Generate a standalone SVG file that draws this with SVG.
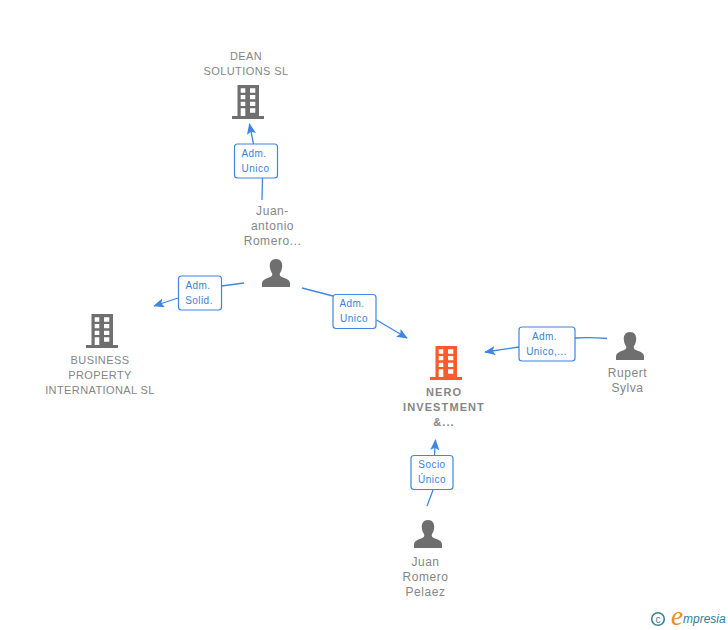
<svg xmlns="http://www.w3.org/2000/svg" width="728" height="630" viewBox="0 0 728 630">
<style>
.n{font:11px "Liberation Sans",Arial,sans-serif;fill:#868686;text-anchor:middle;letter-spacing:.4px}
.p{font-size:12px;letter-spacing:.55px}
.b{font-weight:bold;letter-spacing:1.1px}
.l{font:10px "Liberation Sans",Arial,sans-serif;fill:#3a7fdc;text-anchor:middle;letter-spacing:.45px}
.box{fill:#fff;stroke:#3f86e0;stroke-width:1.2}
.c{fill:none;stroke:#3f86e0;stroke-width:1.3}
</style>
<defs>
<marker id="a" viewBox="0 0 12 10" refX="11" refY="5" markerWidth="11" markerHeight="9.500" markerUnits="userSpaceOnUse" orient="auto"><path d="M0 0L12 5L0 10L2.500 5Z" fill="#3f86e0"/></marker>
<symbol id="bld" viewBox="0 0 32 34" width="32" height="34" overflow="visible">
<path fill-rule="evenodd" d="M5.500 0H27V31H32V34H0V31H5.500ZM8.700 3.300V7.700H13.300V3.300ZM18 3.300V7.700H23.300V3.300ZM8.700 10V14.300H13.300V10ZM18 10V14.300H23.300V10ZM8.700 16.700V21H13.300V16.700ZM18 16.700V21H23.300V16.700ZM8.700 23.300V31H13.300V23.300ZM18 23.300V27.700H23.300V23.300Z"/>
</symbol>
<symbol id="per" viewBox="0 0 28 28" width="28" height="28" overflow="visible">
<path d="M14 0C18.500 0 20.500 3.500 20.200 7.500C20 10.500 19 12.500 17.800 14.500C17.300 16.500 18.500 17.500 21 18.500C25 20 27.500 21 28 24V28H0V24C.5 21 3 20 7 18.500C9.500 17.500 10.700 16.500 10.200 14.500C9 12.500 8 10.500 7.800 7.500C7.500 3.500 9.500 0 14 0Z" fill="#6f6f6f"/>
</symbol>
</defs>
<g id="connectors">
<path class="c" d="M262.500 178L262 200"/>
<path class="c" marker-end="url(#a)" d="M253.500 144L249.500 124"/>
<path class="c" d="M221.500 286L244 283"/>
<path class="c" marker-end="url(#a)" d="M178 298L154 306"/>
<path class="c" d="M302 288L333 296"/>
<path class="c" marker-end="url(#a)" d="M376.500 320L407 338"/>
<path class="c" d="M575 338Q590 337 607 338.500"/>
<path class="c" marker-end="url(#a)" d="M519 347L485 352"/>
<path class="c" d="M433 490L427 506"/>
<path class="c" marker-end="url(#a)" d="M434.500 455L435.500 440"/>
</g>
<g id="dean"><use href="#bld" x="232" y="85" fill="#6f6f6f"/><text class="n"><tspan x="246" y="60">DEAN</tspan><tspan x="246" y="75">SOLUTIONS SL</tspan></text></g>
<g id="business"><use href="#bld" x="86" y="314" fill="#6f6f6f"/><text class="n"><tspan x="100" y="364">BUSINESS</tspan><tspan x="100" y="379">PROPERTY</tspan><tspan x="100" y="394">INTERNATIONAL SL</tspan></text></g>
<g id="nero"><use href="#bld" x="430" y="346" fill="#ff5a2b"/><text class="n b"><tspan x="444" y="395.500">NERO</tspan><tspan x="444" y="410.500">INVESTMENT</tspan><tspan x="444" y="425.500">&amp;...</tspan></text></g>
<g id="juan-antonio"><use href="#per" x="262" y="259"/><text class="n p"><tspan x="272.500" y="215">Juan-</tspan><tspan x="272.500" y="230">antonio</tspan><tspan x="272.500" y="245">Romero...</tspan></text></g>
<g id="rupert"><use href="#per" x="616" y="332"/><text class="n p"><tspan x="627.500" y="377">Rupert</tspan><tspan x="627.500" y="392">Sylva</tspan></text></g>
<g id="juan"><use href="#per" x="414" y="520"/><text class="n p"><tspan x="425.500" y="566">Juan</tspan><tspan x="425.500" y="581">Romero</tspan><tspan x="425.500" y="596">Pelaez</tspan></text></g>
<g id="label-1"><rect class="box" x="234.500" y="144" width="43" height="34" rx="3"/><text class="l"><tspan x="254" y="157">Adm.</tspan><tspan x="255.500" y="172">Unico</tspan></text></g>
<g id="label-2"><rect class="box" x="178.500" y="276" width="43" height="34" rx="3"/><text class="l"><tspan x="198" y="289">Adm.</tspan><tspan x="199" y="304">Solid.</tspan></text></g>
<g id="label-3"><rect class="box" x="333" y="294.500" width="43" height="34" rx="3"/><text class="l"><tspan x="352" y="307">Adm.</tspan><tspan x="354" y="322">Unico</tspan></text></g>
<g id="label-4"><rect class="box" x="519" y="327" width="56" height="34" rx="3"/><text class="l"><tspan x="544.500" y="340">Adm.</tspan><tspan x="546.500" y="355">Unico,...</tspan></text></g>
<g id="label-5"><rect class="box" x="411" y="455.500" width="42" height="34" rx="3"/><text class="l"><tspan x="432" y="468">Socio</tspan><tspan x="432" y="483">Único</tspan></text></g>
<g id="logo">
<circle cx="658" cy="619" r="6.300" fill="none" stroke="#3d7f93" stroke-width="1.600"/>
<text x="658" y="622.500" font-family="Liberation Sans,sans-serif" font-size="10" fill="#3d7f93" text-anchor="middle">c</text>
<text x="671" y="625" font-family="Liberation Serif,serif" font-style="italic" font-size="27" fill="#f08a1d">e</text>
<text x="683" y="623" font-family="Liberation Sans,sans-serif" font-style="italic" font-size="12" fill="#2f7f96">mpresia</text>
</g>
</svg>
